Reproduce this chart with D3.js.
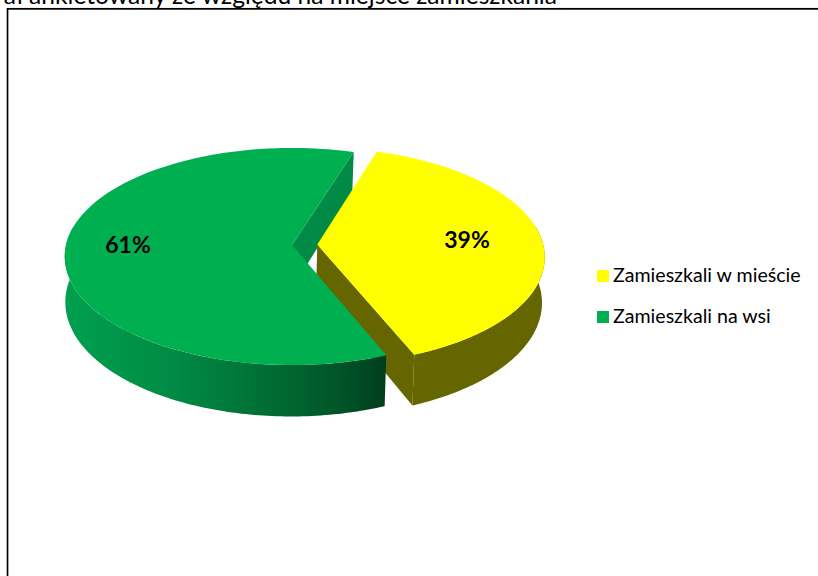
<!DOCTYPE html>
<html>
<head>
<meta charset="utf-8">
<script src="https://cdn.jsdelivr.net/npm/d3@7/dist/d3.min.js"></script>
<style>html,body{margin:0;padding:0;background:#fff;overflow:hidden}svg{display:block}</style>
</head>
<body>
<script>
const categories = ["Zamieszkali w mieście", "Zamieszkali na wsi"];
const values = [39, 61];
const topColors = ["#ffff00", "#00b050"];
const sideColors = ["#666600", "#008a45"];
const titleText = "ał ankietowany ze względu na miejsce zamieszkania";

const W = 818, H = 576, FONT = "Lato, Carlito, 'Open Sans', sans-serif";
const svg = d3.select("body").append("svg").attr("width", W).attr("height", H);

// frame
svg.append("rect").attr("x", 7.75).attr("y", 9.5).attr("width", W + 20).attr("height", H + 20)
  .attr("fill", "none").attr("stroke", "#999").attr("stroke-width", 1);
svg.append("rect").attr("x", 7.5).attr("y", 8.75).attr("width", W + 20).attr("height", H + 20)
  .attr("fill", "none").attr("stroke", "#000").attr("stroke-width", 1.6);

svg.append("text").attr("x", 557).attr("y", 4).attr("text-anchor", "end")
  .attr("font-family", FONT).attr("font-size", 24.6).attr("fill", "#000").text(titleText);

// perspective projection of a flat disc
const cx = 292, cy = 245, R = 226, Ry = 107.3, k = 0.106, hk = 0.125, h0 = 45, baseScale = 0.993, baseShift = -1;
const explode = 0.112;
function project(u, v, bottom) {
  const w = 1 - k * v;
  let X = R * u / w, Y = Ry * v / w;
  if (bottom) { X = X * baseScale + baseShift; Y += h0 / (1 - hk * v); }
  return [cx + X, cy + Y];
}
const deg = Math.PI / 180;
const pie = d3.pie().sort(null).startAngle(17.5 * deg).endAngle(377.5 * deg);
const arcs = pie(values);
const offset = a => {
  if (a.index !== 0) return [0, 0];
  const m = (a.startAngle + a.endAngle) / 2;
  return [explode * Math.sin(m), -explode * Math.cos(m)];
};
const pt = (a, ang, r, bottom) => {
  const o = offset(a);
  return project(o[0] + r * Math.sin(ang), o[1] - r * Math.cos(ang), bottom);
};
const sweep = (a, s, e) => d3.range(0, 121).map(i => s + (e - s) * i / 120);
const line = d3.line();
const topPath = a => line([pt(a, 0, 0), ...sweep(a, a.startAngle, a.endAngle).map(t => pt(a, t, 1))]) + "Z";
const outerWall = (a, s, e) => line([
  ...sweep(a, s, e).map(t => pt(a, t, 1)),
  ...sweep(a, e, s).map(t => pt(a, t, 1, true))]) + "Z";
const cutWall = (a, ang) => line([pt(a, 0, 0), pt(a, ang, 1), pt(a, ang, 1, true), pt(a, 0, 0, true)]) + "Z";

const [yellow, green] = arcs;

const defs = svg.append("defs");
const grad = defs.append("linearGradient").attr("id", "greenSide")
  .attr("gradientUnits", "userSpaceOnUse")
  .attr("x1", 65).attr("x2", 385).attr("y1", 0).attr("y2", 0);
[[0, "#00a04f"], [0.35, "#008a43"], [0.65, "#006c33"], [0.9, "#004f26"], [1, "#003e1e"]]
  .forEach(d => grad.append("stop").attr("offset", d[0]).attr("stop-color", d[1]));

const g = svg.append("g");
// green inner cut wall, back-most
g.append("path").attr("d", cutWall(green, green.endAngle)).attr("fill", sideColors[1]);
// yellow walls
g.append("path").attr("d", cutWall(yellow, yellow.endAngle)).attr("fill", sideColors[0]);
g.append("path").attr("d", outerWall(yellow, 80 * deg, yellow.endAngle)).attr("fill", sideColors[0]);
g.append("path").attr("d", topPath(yellow)).attr("fill", topColors[0]);
// green near wall and top
g.append("path").attr("d", outerWall(green, green.startAngle, 280 * deg)).attr("fill", "url(#greenSide)");
g.append("path").attr("d", topPath(green)).attr("fill", topColors[1]);

// value labels
const labelPos = [[467, 248], [128, 253]];
g.selectAll("text.val").data(arcs).join("text").attr("class", "val")
  .attr("x", (d, i) => labelPos[i][0]).attr("y", (d, i) => labelPos[i][1])
  .attr("text-anchor", "middle").attr("font-family", FONT).attr("font-weight", 700)
  .attr("font-size", 23).attr("fill", "#000").text(d => d.value + "%");

// legend
const legendY = d3.scalePoint().domain(categories).range([276, 317]);
const lg = svg.append("g").selectAll("g").data(categories).join("g")
  .attr("transform", d => `translate(0,${legendY(d)})`);
lg.append("rect").attr("x", 597).attr("y", -6).attr("width", 12).attr("height", 12)
  .attr("fill", (d, i) => topColors[i]);
lg.append("text").attr("x", 613).attr("y", 6).attr("font-family", FONT).attr("font-size", 19.6)
  .attr("fill", "#000").text(d => d);
</script>
</body>
</html>
